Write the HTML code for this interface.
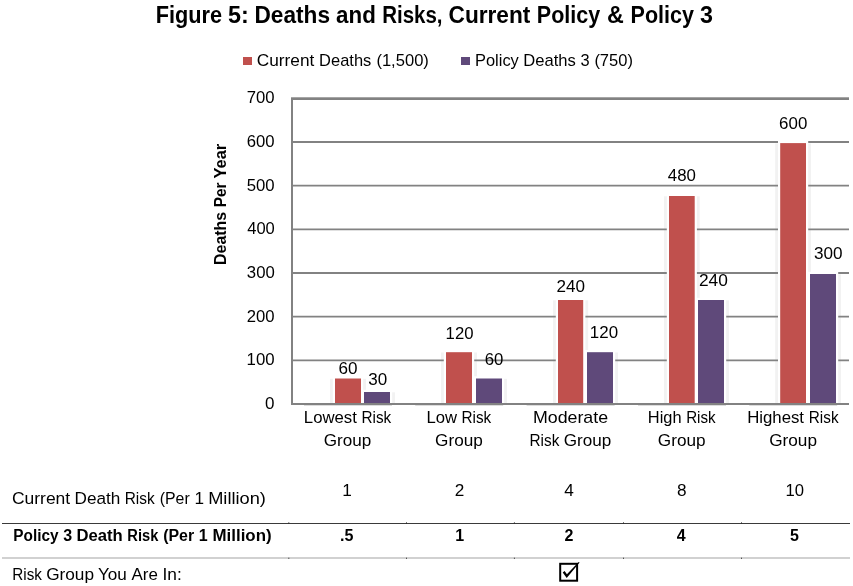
<!DOCTYPE html>
<html lang="en">
<head>
<meta charset="utf-8">
<title>Figure 5: Deaths and Risks, Current Policy &amp; Policy 3</title>
<style>
html,body{margin:0;padding:0;background:#fff;}
body{width:853px;height:586px;overflow:hidden;}
svg{display:block;}
text{font-family:"Liberation Sans",sans-serif;fill:#000;}
.b{font-weight:bold;}
</style>
</head>
<body>
<svg width="853" height="586" viewBox="0 0 853 586">
<rect x="0" y="0" width="853" height="586" fill="#ffffff"/>
<g fill="#f2f2f2">
<rect x="330.00" y="378.80" width="36.00" height="25.50"/>
<rect x="359.00" y="392.30" width="36.00" height="12.00"/>
<rect x="441.00" y="352.50" width="36.00" height="51.80"/>
<rect x="471.00" y="378.80" width="36.00" height="25.50"/>
<rect x="553.00" y="300.30" width="35.20" height="104.00"/>
<rect x="582.00" y="352.50" width="36.00" height="51.80"/>
<rect x="664.00" y="196.30" width="35.70" height="208.00"/>
<rect x="693.00" y="300.30" width="36.00" height="104.00"/>
<rect x="775.20" y="143.40" width="35.80" height="260.90"/>
<rect x="805.00" y="274.30" width="36.00" height="130.00"/>
</g>
<g stroke="#828282" stroke-width="1.9" fill="none">
<line x1="292.0" y1="360.33" x2="849.0" y2="360.33"/>
<line x1="292.0" y1="316.67" x2="849.0" y2="316.67"/>
<line x1="292.0" y1="273.00" x2="849.0" y2="273.00"/>
<line x1="292.0" y1="229.33" x2="849.0" y2="229.33"/>
<line x1="292.0" y1="185.66" x2="849.0" y2="185.66"/>
<line x1="292.0" y1="142.00" x2="849.0" y2="142.00"/>
</g>
<rect x="291.0" y="97" width="558.0" height="1" fill="#a6a6a6"/>
<rect x="291.0" y="98" width="558.0" height="2" fill="#828282"/>
<g fill="#ffffff">
<rect x="332.80" y="376.30" width="30.40" height="27.70"/>
<rect x="361.80" y="389.80" width="30.40" height="14.20"/>
<rect x="443.80" y="350.00" width="30.40" height="54.00"/>
<rect x="473.80" y="376.30" width="30.40" height="27.70"/>
<rect x="555.80" y="297.80" width="29.60" height="106.20"/>
<rect x="584.80" y="350.00" width="30.40" height="54.00"/>
<rect x="666.80" y="193.80" width="30.10" height="210.20"/>
<rect x="695.80" y="297.80" width="30.40" height="106.20"/>
<rect x="778.00" y="140.90" width="30.20" height="263.10"/>
<rect x="807.80" y="271.80" width="30.40" height="132.20"/>
</g>
<g>
<rect x="335.00" y="378.50" width="26.00" height="25.50" fill="#C0504D"/>
<rect x="364.00" y="392.00" width="26.00" height="12.00" fill="#5F497A"/>
<rect x="446.00" y="352.20" width="26.00" height="51.80" fill="#C0504D"/>
<rect x="476.00" y="378.50" width="26.00" height="25.50" fill="#5F497A"/>
<rect x="558.00" y="300.00" width="25.20" height="104.00" fill="#C0504D"/>
<rect x="587.00" y="352.20" width="26.00" height="51.80" fill="#5F497A"/>
<rect x="669.00" y="196.00" width="25.70" height="208.00" fill="#C0504D"/>
<rect x="698.00" y="300.00" width="26.00" height="104.00" fill="#5F497A"/>
<rect x="780.20" y="143.10" width="25.80" height="260.90" fill="#C0504D"/>
<rect x="810.00" y="274.00" width="26.00" height="130.00" fill="#5F497A"/>
</g>
<line x1="304.0" y1="405.3" x2="392.0" y2="405.3" stroke="#cfcfcf" stroke-width="0.9"/>
<line x1="415.2" y1="405.3" x2="503.2" y2="405.3" stroke="#cfcfcf" stroke-width="0.9"/>
<line x1="526.6" y1="405.3" x2="614.6" y2="405.3" stroke="#cfcfcf" stroke-width="0.9"/>
<line x1="638.0" y1="405.3" x2="726.0" y2="405.3" stroke="#cfcfcf" stroke-width="0.9"/>
<line x1="749.2" y1="405.3" x2="837.2" y2="405.3" stroke="#cfcfcf" stroke-width="0.9"/>
<line x1="291.0" y1="404.00" x2="849.0" y2="404.00" stroke="#828282" stroke-width="1.9"/>
<line x1="292.00" y1="98" x2="292.00" y2="404.90" stroke="#828282" stroke-width="2"/>
<rect x="243" y="57" width="9" height="8" fill="#C0504D"/>
<rect x="461" y="57" width="9" height="8" fill="#5F497A"/>
<line x1="2" y1="523.5" x2="850" y2="523.5" stroke="#3a3a3a" stroke-width="1"/>
<line x1="2" y1="558" x2="850" y2="558" stroke="#c2c2c2" stroke-width="1.3"/>
<rect x="288.3" y="522.4" width="1" height="1" fill="#222"/>
<rect x="288.3" y="557.7" width="1" height="1.1" fill="#333"/>
<rect x="406.0" y="522.4" width="1" height="1" fill="#222"/>
<rect x="406.0" y="557.7" width="1" height="1.1" fill="#333"/>
<rect x="513.9" y="522.4" width="1" height="1" fill="#222"/>
<rect x="513.9" y="557.7" width="1" height="1.1" fill="#333"/>
<rect x="623.0" y="522.4" width="1" height="1" fill="#222"/>
<rect x="623.0" y="557.7" width="1" height="1.1" fill="#333"/>
<rect x="741.0" y="522.4" width="1" height="1" fill="#222"/>
<rect x="741.0" y="557.7" width="1" height="1.1" fill="#333"/>
<rect x="560.2" y="563.8" width="16.9" height="16.9" fill="#fff" stroke="#000" stroke-width="2"/>
<path d="M562.7 572.4 L564.6 570.9 L566.9 574.3 L578.7 562.0 L579.6 562.6 L566.7 578.0 Z" fill="#000"/>
<text class="b" y="23.00" font-size="23.30"><tspan x="155.75" textLength="66.34" lengthAdjust="spacingAndGlyphs">Figure</tspan> <tspan x="227.96" textLength="20.79" lengthAdjust="spacingAndGlyphs">5:</tspan> <tspan x="254.50" textLength="75.56" lengthAdjust="spacingAndGlyphs">Deaths</tspan> <tspan x="336.12" textLength="39.73" lengthAdjust="spacingAndGlyphs">and</tspan> <tspan x="382.27" textLength="60.24" lengthAdjust="spacingAndGlyphs">Risks,</tspan> <tspan x="448.56" textLength="81.80" lengthAdjust="spacingAndGlyphs">Current</tspan> <tspan x="536.85" textLength="63.37" lengthAdjust="spacingAndGlyphs">Policy</tspan> <tspan x="606.89">&amp;</tspan> <tspan x="630.58" textLength="63.44" lengthAdjust="spacingAndGlyphs">Policy</tspan> <tspan x="699.92">3</tspan></text>
<text y="66.30" font-size="16.40"><tspan x="256.84" textLength="57.51" lengthAdjust="spacingAndGlyphs">Current</tspan> <tspan x="319.13" textLength="52.16" lengthAdjust="spacingAndGlyphs">Deaths</tspan> <tspan x="376.40" textLength="52.50" lengthAdjust="spacingAndGlyphs">(1,500)</tspan></text>
<text y="66.30" font-size="16.40"><tspan x="475.02" textLength="43.83" lengthAdjust="spacingAndGlyphs">Policy</tspan> <tspan x="523.29" textLength="52.56" lengthAdjust="spacingAndGlyphs">Deaths</tspan> <tspan x="580.58">3</tspan> <tspan x="594.38" textLength="38.52" lengthAdjust="spacingAndGlyphs">(750)</tspan></text>
<text y="409.10" font-size="17.00"><tspan x="265.04">0</tspan></text>
<text y="365.43" font-size="17.00"><tspan x="246.55" textLength="28.04" lengthAdjust="spacingAndGlyphs">100</tspan></text>
<text y="321.77" font-size="17.00"><tspan x="246.75" textLength="27.84" lengthAdjust="spacingAndGlyphs">200</tspan></text>
<text y="278.10" font-size="17.00"><tspan x="246.87" textLength="27.94" lengthAdjust="spacingAndGlyphs">300</tspan></text>
<text y="234.43" font-size="17.00"><tspan x="247.20" textLength="27.64" lengthAdjust="spacingAndGlyphs">400</tspan></text>
<text y="190.76" font-size="17.00"><tspan x="246.66" textLength="27.92" lengthAdjust="spacingAndGlyphs">500</tspan></text>
<text y="147.10" font-size="17.00"><tspan x="246.73" textLength="27.85" lengthAdjust="spacingAndGlyphs">600</tspan></text>
<text y="103.43" font-size="17.00"><tspan x="246.74" textLength="27.84" lengthAdjust="spacingAndGlyphs">700</tspan></text>
<text class="b" transform="rotate(-90)" y="226.30" font-size="17.00"><tspan x="-264.97" textLength="53.14" lengthAdjust="spacingAndGlyphs">Deaths</tspan> <tspan x="-207.32" textLength="24.86" lengthAdjust="spacingAndGlyphs">Per</tspan> <tspan x="-178.51" textLength="34.64" lengthAdjust="spacingAndGlyphs">Year</tspan></text>
<text y="423.40" font-size="17.00"><tspan x="303.84" textLength="53.07" lengthAdjust="spacingAndGlyphs">Lowest</tspan> <tspan x="361.53" textLength="29.74" lengthAdjust="spacingAndGlyphs">Risk</tspan></text>
<text y="445.90" font-size="17.00"><tspan x="323.74" textLength="47.51" lengthAdjust="spacingAndGlyphs">Group</tspan></text>
<text y="423.40" font-size="17.00"><tspan x="426.47" textLength="30.62" lengthAdjust="spacingAndGlyphs">Low</tspan> <tspan x="461.57" textLength="29.70" lengthAdjust="spacingAndGlyphs">Risk</tspan></text>
<text y="445.90" font-size="17.00"><tspan x="435.10" textLength="47.75" lengthAdjust="spacingAndGlyphs">Group</tspan></text>
<text y="423.40" font-size="17.00"><tspan x="532.93" textLength="75.18" lengthAdjust="spacingAndGlyphs">Moderate</tspan></text>
<text y="445.90" font-size="17.00"><tspan x="529.51" textLength="29.83" lengthAdjust="spacingAndGlyphs">Risk</tspan> <tspan x="563.68" textLength="47.53" lengthAdjust="spacingAndGlyphs">Group</tspan></text>
<text y="423.40" font-size="17.00"><tspan x="647.79" textLength="33.74" lengthAdjust="spacingAndGlyphs">High</tspan> <tspan x="686.13" textLength="29.44" lengthAdjust="spacingAndGlyphs">Risk</tspan></text>
<text y="445.90" font-size="17.00"><tspan x="657.82" textLength="47.76" lengthAdjust="spacingAndGlyphs">Group</tspan></text>
<text y="423.40" font-size="17.00"><tspan x="747.14" textLength="56.89" lengthAdjust="spacingAndGlyphs">Highest</tspan> <tspan x="808.80" textLength="29.77" lengthAdjust="spacingAndGlyphs">Risk</tspan></text>
<text y="445.90" font-size="17.00"><tspan x="769.18" textLength="47.80" lengthAdjust="spacingAndGlyphs">Group</tspan></text>
<text y="373.90" font-size="17.00"><tspan x="338.48" textLength="19.04" lengthAdjust="spacingAndGlyphs">60</tspan></text>
<text y="384.90" font-size="17.00"><tspan x="368.18" textLength="18.94" lengthAdjust="spacingAndGlyphs">30</tspan></text>
<text y="338.50" font-size="17.00"><tspan x="445.60" textLength="27.87" lengthAdjust="spacingAndGlyphs">120</tspan></text>
<text y="364.50" font-size="17.00"><tspan x="484.78" textLength="18.65" lengthAdjust="spacingAndGlyphs">60</tspan></text>
<text y="291.70" font-size="17.00"><tspan x="556.38" textLength="28.55" lengthAdjust="spacingAndGlyphs">240</tspan></text>
<text y="338.30" font-size="17.00"><tspan x="589.84" textLength="28.22" lengthAdjust="spacingAndGlyphs">120</tspan></text>
<text y="180.80" font-size="17.00"><tspan x="667.86" textLength="28.10" lengthAdjust="spacingAndGlyphs">480</tspan></text>
<text y="285.90" font-size="17.00"><tspan x="698.91" textLength="28.89" lengthAdjust="spacingAndGlyphs">240</tspan></text>
<text y="128.70" font-size="17.00"><tspan x="779.10" textLength="28.19" lengthAdjust="spacingAndGlyphs">600</tspan></text>
<text y="259.30" font-size="17.00"><tspan x="814.06" textLength="28.57" lengthAdjust="spacingAndGlyphs">300</tspan></text>
<text y="503.80" font-size="17.20"><tspan x="11.91" textLength="58.27" lengthAdjust="spacingAndGlyphs">Current</tspan> <tspan x="74.51" textLength="45.79" lengthAdjust="spacingAndGlyphs">Death</tspan> <tspan x="124.69" textLength="29.96" lengthAdjust="spacingAndGlyphs">Risk</tspan> <tspan x="159.73" textLength="29.99" lengthAdjust="spacingAndGlyphs">(Per</tspan> <tspan x="194.49">1</tspan> <tspan x="208.15" textLength="57.75" lengthAdjust="spacingAndGlyphs">Million)</tspan></text>
<text class="b" y="541.00" font-size="16.00"><tspan x="13.29" textLength="45.27" lengthAdjust="spacingAndGlyphs">Policy</tspan> <tspan x="63.30">3</tspan> <tspan x="76.50" textLength="46.24" lengthAdjust="spacingAndGlyphs">Death</tspan> <tspan x="127.34" textLength="30.98" lengthAdjust="spacingAndGlyphs">Risk</tspan> <tspan x="163.17" textLength="30.93" lengthAdjust="spacingAndGlyphs">(Per</tspan> <tspan x="198.66">1</tspan> <tspan x="212.50" textLength="59.07" lengthAdjust="spacingAndGlyphs">Million)</tspan></text>
<text y="579.50" font-size="17.20"><tspan x="12.30" textLength="29.65" lengthAdjust="spacingAndGlyphs">Risk</tspan> <tspan x="46.16" textLength="47.87" lengthAdjust="spacingAndGlyphs">Group</tspan> <tspan x="97.96" textLength="28.89" lengthAdjust="spacingAndGlyphs">You</tspan> <tspan x="131.57" textLength="26.33" lengthAdjust="spacingAndGlyphs">Are</tspan> <tspan x="162.47" textLength="19.26" lengthAdjust="spacingAndGlyphs">In:</tspan></text>
<text y="495.80" font-size="17.20"><tspan x="342.37">1</tspan></text>
<text y="495.80" font-size="17.20"><tspan x="454.69">2</tspan></text>
<text y="495.80" font-size="17.20"><tspan x="564.14">4</tspan></text>
<text y="495.80" font-size="17.20"><tspan x="677.00">8</tspan></text>
<text y="495.80" font-size="17.20"><tspan x="785.43" textLength="18.52" lengthAdjust="spacingAndGlyphs">10</tspan></text>
<text class="b" y="541.00" font-size="16.00"><tspan x="340.10" textLength="13.41" lengthAdjust="spacingAndGlyphs">.5</tspan></text>
<text class="b" y="541.00" font-size="16.00"><tspan x="455.13">1</tspan></text>
<text class="b" y="541.00" font-size="16.00"><tspan x="564.59">2</tspan></text>
<text class="b" y="541.00" font-size="16.00"><tspan x="676.70">4</tspan></text>
<text class="b" y="541.00" font-size="16.00"><tspan x="790.01">5</tspan></text>
</svg>
</body>
</html>
